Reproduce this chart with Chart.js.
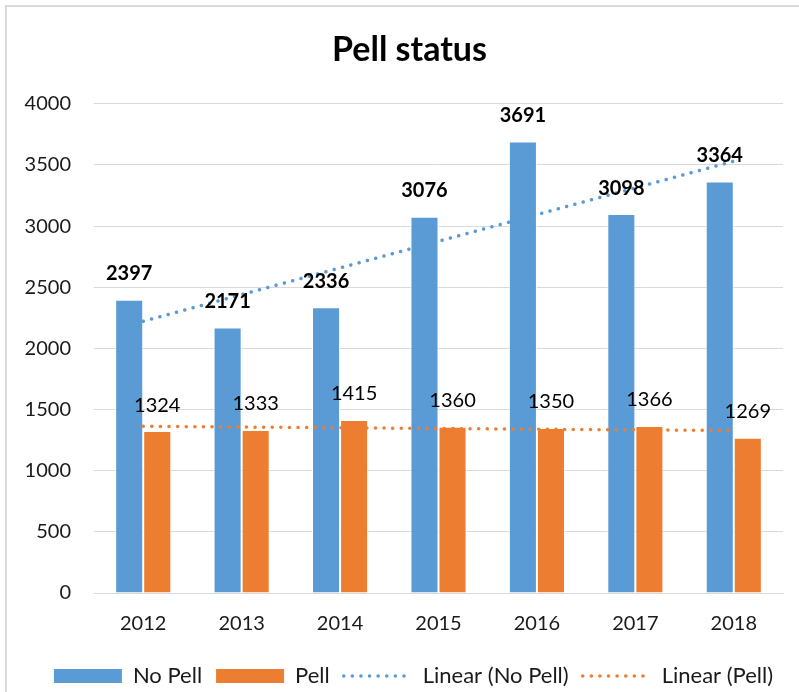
<!DOCTYPE html>
<html>
<head>
<meta charset="utf-8">
<title>Pell status</title>
<script src="https://cdn.jsdelivr.net/npm/chart.js@4.4.1/dist/chart.umd.min.js"></script>
<style>
    html, body { margin: 0; padding: 0; background: #fff; overflow: hidden; }
    #wrap { position: relative; width: 799px; height: 697px; }
    #frame { position: absolute; left: 5px; top: 5px; width: 900px; height: 900px;
             border-top: 2px solid #d9d9d9; border-left: 2px solid #d9d9d9; }
    #chart { position: absolute; left: 0; top: 0; }
</style>
</head>
<body>
<div id="wrap">
    <div id="frame"></div>
    <canvas id="chart" width="799" height="697"></canvas>
</div>
<script>
// Chart data
const years = ['2012', '2013', '2014', '2015', '2016', '2017', '2018'];
const noPell = [2397, 2171, 2336, 3076, 3691, 3098, 3364];
const pell = [1324, 1333, 1415, 1360, 1350, 1366, 1269];
// Excel linear trendlines, as seen in the picture
const noPellTrend = [2222, 2440, 2658, 2876, 3094, 3313, 3531];
const pellTrend = [1363, 1357, 1351, 1345, 1339, 1334, 1328];
const yTicks = [0, 500, 1000, 1500, 2000, 2500, 3000, 3500, 4000];

const BLUE = '#5b9bd5';
const ORANGE = '#ed7d31';
const DOTS = [0.1, 8.5];

Chart.defaults.font.family = 'Lato';
Chart.defaults.color = '#1a1a1a';

// Draws the value labels above each bar
const barLabels = {
    id: 'barLabels',
    afterDatasetsDraw(chart) {
        const ctx = chart.ctx;
        [0, 1].forEach(i => {
            const meta = chart.getDatasetMeta(i);
            const values = chart.data.datasets[i].data;
            ctx.save();
            ctx.font = (i === 0 ? 'bold ' : '') + '20px Lato';
            ctx.fillStyle = '#000';
            ctx.textAlign = 'center';
            ctx.textBaseline = 'middle';
            meta.data.forEach((bar, j) => {
                ctx.fillText(String(values[j]), bar.x, bar.y - 26);
            });
            ctx.restore();
        });
    }
};

// nudge title and legend sideways (Excel centres them a bit right of ours)
const shiftBlocks = {
    id: 'shiftBlocks',
    afterLayout(chart) {
        if (chart.titleBlock) { chart.titleBlock.left += 18; chart.titleBlock.right += 18; }
        if (chart.legend) { chart.legend.left += 22; chart.legend.right += 22; }
    }
};

const dotted = (label, data, color) => ({
    type: 'line',
    label: label,
    data: data,
    borderColor: color,
    backgroundColor: color,
    borderWidth: 3.5,
    borderDash: DOTS,
    borderCapStyle: 'round',
    pointRadius: 0,
    pointHoverRadius: 0,
    pointStyle: 'line',
    fill: false,
    tension: 0,
    order: 0
});

new Chart(document.getElementById('chart'), {
    type: 'bar',
    data: {
        labels: years,
        datasets: [
            { label: 'No Pell', data: noPell, backgroundColor: BLUE, borderColor: '#fff',
              borderWidth: 1, pointStyle: 'rect', order: 1 },
            { label: 'Pell', data: pell, backgroundColor: ORANGE, borderColor: '#fff',
              borderWidth: 1, pointStyle: 'rect', order: 1 },
            dotted('Linear (No Pell)', noPellTrend, BLUE),
            dotted('Linear (Pell)', pellTrend, ORANGE)
        ]
    },
    options: {
        responsive: false,
        animation: false,
        layout: { padding: { left: 0, right: 16, top: 0, bottom: 0 } },
        datasets: { bar: { categoryPercentage: 0.57, barPercentage: 1 } },
        scales: {
            x: {
                grid: { display: false },
                border: { color: '#d9d9d9', width: 1 },
                ticks: { font: { size: 20 }, padding: 11, color: '#1a1a1a' },
                afterFit: s => { s.height = 58; }
            },
            y: {
                min: 0,
                max: 4000,
                afterBuildTicks: s => { s.ticks = yTicks.map(v => ({ value: v })); },
                grid: { color: '#d9d9d9', lineWidth: 1, drawTicks: false },
                border: { display: false },
                ticks: { font: { size: 20 }, padding: 23, color: '#1a1a1a',
                         callback: v => String(v) },
                afterFit: s => { s.width = 94; }
            }
        },
        plugins: {
            title: {
                display: true,
                text: 'Pell status',
                font: { size: 34, weight: 'bold' },
                color: '#000',
                padding: { top: 30, bottom: 33 }
            },
            legend: {
                position: 'bottom',
                labels: {
                    usePointStyle: true,
                    pointStyleWidth: 68,
                    boxHeight: 14,
                    padding: 14,
                    font: { size: 22 },
                    color: '#1a1a1a',
                    sort: (a, b) => a.datasetIndex - b.datasetIndex,
                    generateLabels(chart) {
                        const items = Chart.defaults.plugins.legend.labels.generateLabels(chart);
                        items.forEach(it => {
                            if (it.datasetIndex < 2) {
                                it.lineWidth = 0;
                            } else {
                                const ds = chart.data.datasets[it.datasetIndex];
                                it.pointStyle = 'line';
                                it.lineWidth = 3.5;
                                it.lineDash = DOTS;
                                it.lineCap = 'round';
                                it.strokeStyle = ds.borderColor;
                            }
                        });
                        return items;
                    }
                }
            },
            tooltip: { enabled: false }
        }
    },
    plugins: [barLabels, shiftBlocks]
});
</script>
</body>
</html>
